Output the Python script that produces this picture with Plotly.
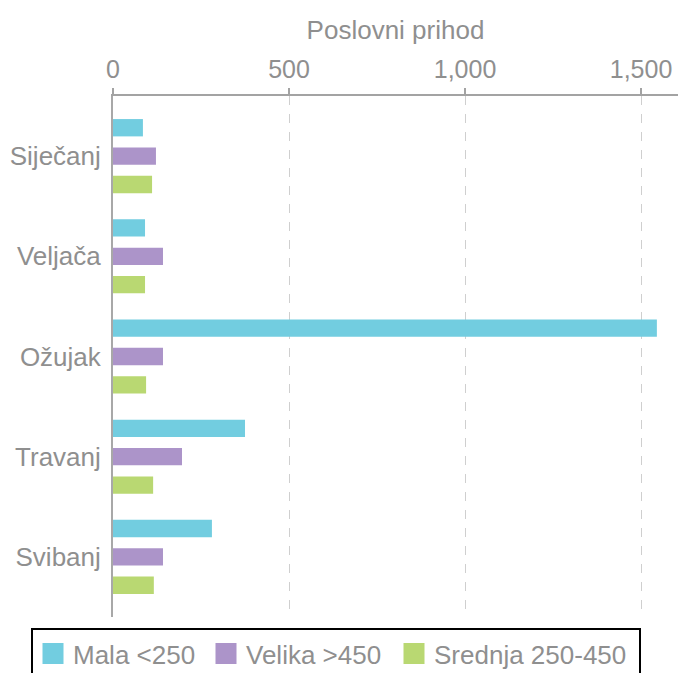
import plotly.graph_objects as go

months = ["Siječanj", "Veljača", "Ožujak", "Travanj", "Svibanj"]
series_names = ["Mala <250", "Velika >450", "Srednja 250-450"]
mala = [85, 91, 1545, 375, 281]
velika = [122, 142, 142, 196, 142]
srednja = [111, 91, 94, 114, 116]
colors = ["#72CDE0", "#AC94C9", "#B9D872"]
legend_widths = [128, 143, 200]
x_ticks = [0, 500, 1000, 1500]
x_tick_labels = ["0", "500", "1,000", "1,500"]

FONT = "Liberation Sans, Arial, sans-serif"
GRAY = "#8f8f8f"

W, H = 678, 673
ML, MR, MT, MB = 113, 0, 96, 56
plot_h = H - MT - MB

fig = go.Figure()
for name, vals, col, lw in zip(series_names, [mala, velika, srednja], colors, legend_widths):
    fig.add_trace(go.Bar(
        y=months, x=vals, name=name, orientation="h",
        marker=dict(color=col, line=dict(width=0)),
        showlegend=False,
    ))
    fig.add_trace(go.Scatter(
        x=[None], y=[None], mode="markers", name=name,
        marker=dict(symbol="square", size=16, color=col, line=dict(color=col, width=6)),
        showlegend=True, legendwidth=lw,
    ))

fig.update_layout(
    width=W, height=H,
    margin=dict(l=ML, r=MR, t=MT, b=MB, autoexpand=False),
    paper_bgcolor="white", plot_bgcolor="white",
    barmode="group", bargap=0.15, bargroupgap=0.39,
    font=dict(family=FONT, color=GRAY, size=25),
    showlegend=True,
    legend=dict(
        orientation="h",
        xref="paper", yref="paper",
        x=(31 - ML) / (W - ML - MR), xanchor="left",
        y=-(628 - (H - MB)) / plot_h, yanchor="top",
        bordercolor="#000000", borderwidth=2,
        font=dict(family=FONT, color=GRAY, size=26),
        itemsizing="trace",
        tracegroupgap=0,
    ),
    xaxis=dict(
        side="top", range=[0, 1605],
        tickvals=x_ticks, ticktext=x_tick_labels,
        tickfont=dict(size=25, color=GRAY),
        showline=True, linecolor="#a3a3a3", linewidth=2,
        ticks="outside", ticklen=6, tickcolor="#a3a3a3", tickwidth=2,
        showgrid=True, gridcolor="#cfcfcf", griddash="dash", gridwidth=1,
        zeroline=False,
        title=dict(text="Poslovni prihod", font=dict(size=26, color=GRAY), standoff=8),
    ),
    yaxis=dict(
        range=[4.6, -0.6],
        tickfont=dict(size=26, color=GRAY),
        showline=True, linecolor="#a8a8a8", linewidth=2,
        ticks="", ticklabelstandoff=5,
        showgrid=False, zeroline=False,
    ),
)

fig.write_html(
    "out.html",
    config={"displayModeBar": False},
    post_script="document.body.style.margin='0';document.body.style.overflow='hidden';",
)
